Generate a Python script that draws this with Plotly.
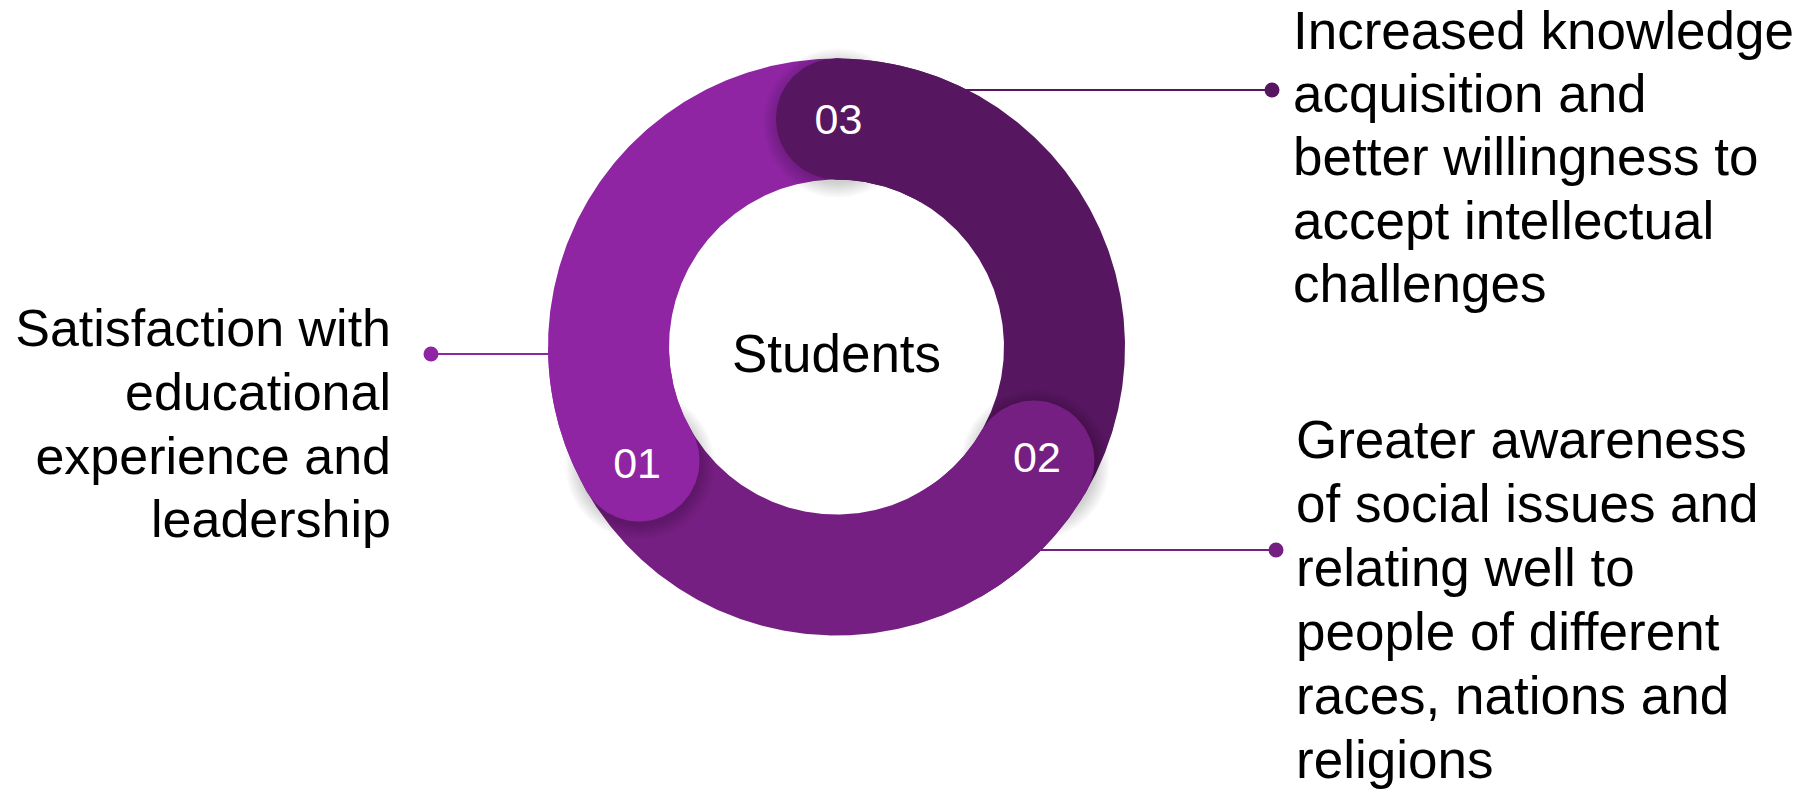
import numpy as np
import plotly.graph_objects as go

# ---------------- data ----------------
categories = ["01", "02", "03"]
shares = [1, 1, 1]
center_label = "Students"
label_lines = [
    ["Satisfaction with", "educational", "experience and", "leadership"],
    ["Greater awareness", "of social issues and", "relating well to",
     "people of different", "races, nations and", "religions"],
    ["Increased knowledge", "acquisition and", "better willingness to",
     "accept intellectual", "challenges"],
]
colors = ["#8F25A3", "#761F82", "#561660"]

# ---------------- layout / style ----------------
W, H = 1813, 789
CX, CY = 836.5, 347.0
R_OUT, R_IN = 288.5, 167.5
R_MID = (R_OUT + R_IN) / 2
CAP_R = (R_OUT - R_IN) / 2
START = 90.0          # degrees, counter-clockwise
FONT = "Liberation Sans, Arial, sans-serif"
MID = 0.25            # baseline -> visual middle offset (em)

# connector: (y of line, x of dot, side)
connectors = [(354, 431, -1), (550, 1276, 1), (90, 1272, 1)]
# text blocks: (anchor x, first baseline, line spacing, textposition, size)
blocks = [(391, 346, 63.8, "middle left", 52),
          (1296, 457.5, 64.0, "middle right", 53),
          (1293, 48.5, 63.4, "middle right", 53)]
# small nudges of cap numbers (dx, dy) for 01, 02, 03
num_nudge = [(-2, 2), (3, -4), (2, 0)]


def pt(r, deg):
    a = np.radians(deg)
    return CX + r * np.cos(a), CY - r * np.sin(a)


def sector(a0, a1, n=240):
    t = np.linspace(a0, a1, n)
    xo, yo = pt(R_OUT, t)
    xi, yi = pt(R_IN, t[::-1])
    return (np.concatenate([xo, xi, xo[:1]]), np.concatenate([yo, yi, yo[:1]]))


def circle(cx, cy, r, n=160):
    t = np.linspace(0, 2 * np.pi, n)
    return cx + r * np.cos(t), cy + r * np.sin(t)


fig = go.Figure()


def poly(x, y, color, opacity=1.0):
    fig.add_trace(go.Scatter(x=x, y=y, mode="lines", fill="toself",
                             fillcolor=color, line=dict(width=0, color=color),
                             opacity=opacity, hoverinfo="skip"))


total = float(sum(shares))
spans = []
a = START
for v in shares:
    b = a + 360.0 * v / total
    spans.append((a, b))
    a = b

# connector lines (behind ring)
for (ly, xd, side), col in zip(connectors, colors):
    xe = CX + side * (np.sqrt(R_OUT ** 2 - (ly - CY) ** 2) - 3)
    fig.add_trace(go.Scatter(x=[xd, xe], y=[ly, ly], mode="lines",
                             line=dict(color=col, width=2), hoverinfo="skip"))

# ring sectors
for (a0, a1), col in zip(spans, colors):
    x, y = sector(a0 - 0.5, a1 + 0.5)
    poly(x, y, col)

# soft shadows of the rounded end caps
for (a0, a1) in spans:
    ccx, ccy = pt(R_MID, a1)
    for i in range(1, 9):
        x, y = circle(ccx + 1, ccy + 4, CAP_R + 2 * i - 2)
        poly(x, y, "rgba(0,0,0,1)", 0.025)

# re-cover own side of each cap
for (a0, a1), col in zip(spans, colors):
    x, y = sector(a1 - 30, a1)
    poly(x, y, col)

# rounded end caps
for (a0, a1), col in zip(spans, colors):
    ccx, ccy = pt(R_MID, a1)
    x, y = circle(ccx, ccy, CAP_R)
    poly(x, y, col)

# numbers on caps
nfs = 43
nx, ny = [], []
for (a0, a1), (ddx, ddy) in zip(spans, num_nudge):
    px, py = pt(R_MID, a1)
    nx.append(px + ddx)
    ny.append(py + 0.1 * nfs + ddy)
fig.add_trace(go.Scatter(x=nx, y=ny, mode="text", text=categories,
                         textposition="middle center",
                         textfont=dict(family=FONT, size=nfs, color="white"),
                         hoverinfo="skip"))

# connector dots
for (ly, xd, side), col in zip(connectors, colors):
    fig.add_trace(go.Scatter(x=[xd], y=[ly], mode="markers",
                             marker=dict(size=15, color=col, line=dict(width=0)),
                             hoverinfo="skip"))

# centre label
fig.add_trace(go.Scatter(x=[CX], y=[CY + 12], mode="text", text=[center_label],
                         textposition="middle center",
                         textfont=dict(family=FONT, size=53, color="black"),
                         hoverinfo="skip"))

# descriptive labels
for lines, (bx, b0, dy, tp, fs) in zip(label_lines, blocks):
    ys = [b0 + k * dy - MID * fs for k in range(len(lines))]
    fig.add_trace(go.Scatter(x=[bx] * len(lines), y=ys, mode="text",
                             text=lines, textposition=tp,
                             textfont=dict(family=FONT, size=fs, color="black"),
                             hoverinfo="skip"))

fig.update_layout(
    width=W, height=H, autosize=False,
    margin=dict(l=0, r=0, t=0, b=0),
    paper_bgcolor="white", plot_bgcolor="white",
    showlegend=False,
    xaxis=dict(range=[0, W], visible=False, fixedrange=True),
    yaxis=dict(range=[H, 0], visible=False, fixedrange=True),
)

fig.write_html("out.html")
